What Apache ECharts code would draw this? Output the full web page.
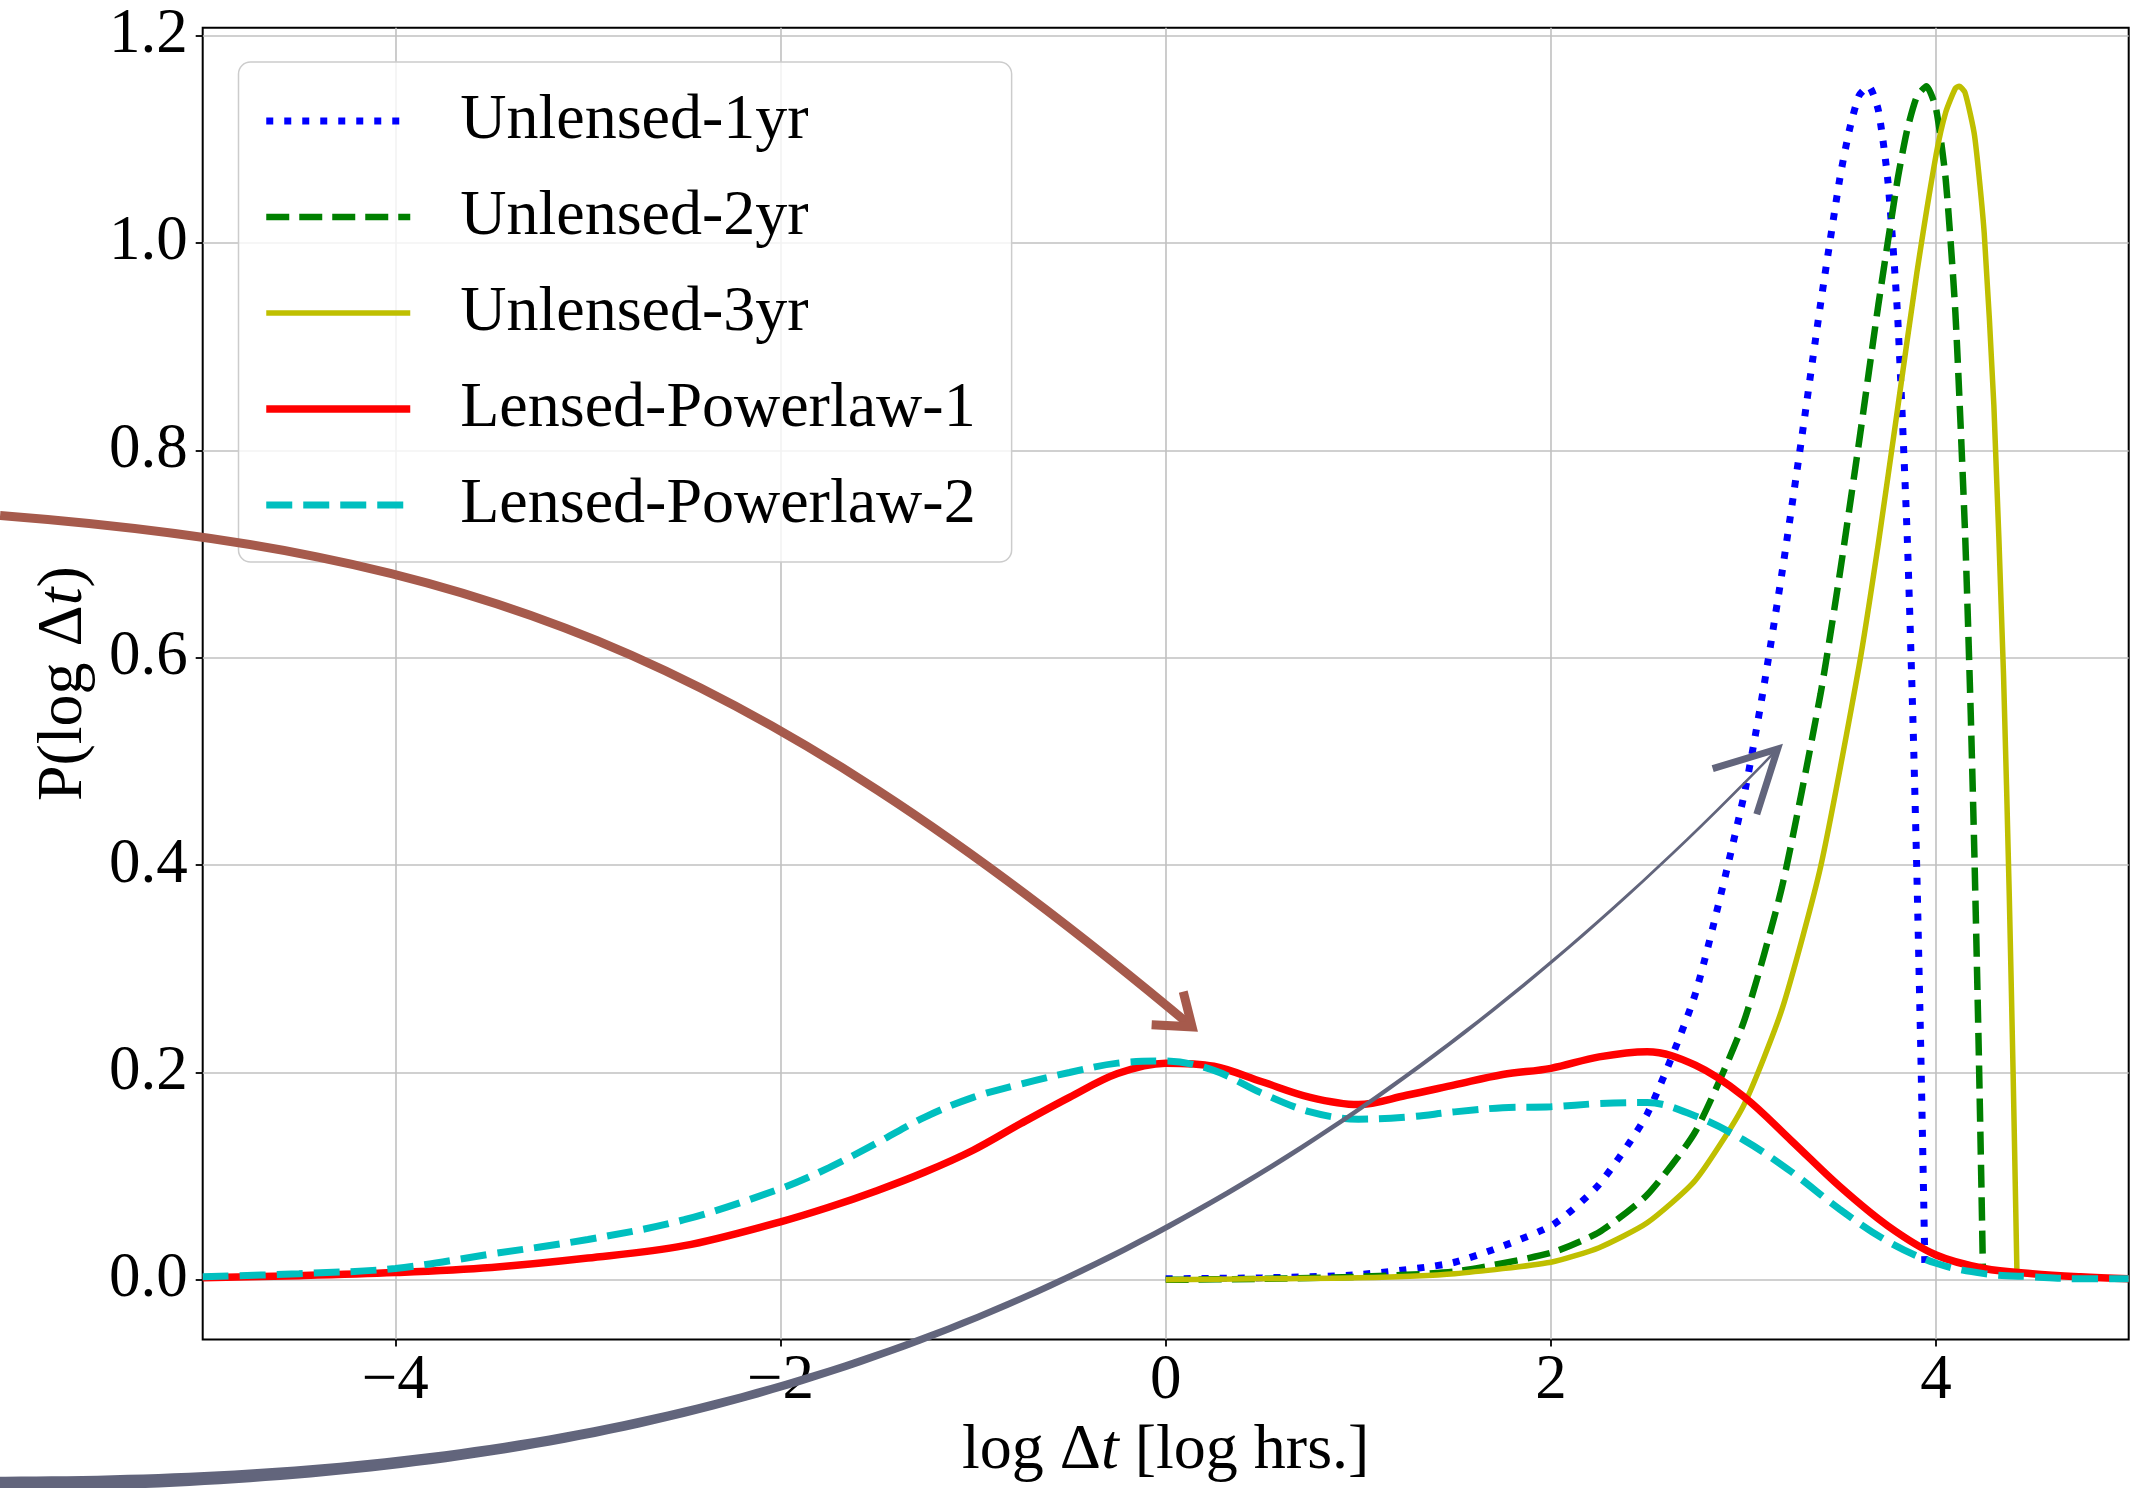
<!DOCTYPE html>
<html>
<head>
<meta charset="utf-8">
<script src="https://cdn.jsdelivr.net/npm/echarts@6/dist/echarts.min.js"></script>
<style>
html, body { margin: 0; padding: 0; background: #fff; }
#chart { width: 2150px; height: 1488px; }
</style>
</head>
<body>
<div id="chart"></div>
<script>
// names in draw order (last one on top)
const seriesNames = ['Unlensed-1yr', 'Unlensed-2yr', 'Unlensed-3yr', 'Lensed-Powerlaw-1', 'Lensed-Powerlaw-2'];

// unlensed curves (log hrs, P)
const unl1X = [0, 0.5, 1, 1.5, 2, 2.25, 2.5, 2.75, 3, 3.1, 3.2, 3.3, 3.4, 3.5, 3.55, 3.6, 3.65, 3.7, 3.75, 3.8, 3.85, 3.88, 3.9, 3.92, 3.935, 3.942];
const unl1Y = [0.001, 0.002, 0.005, 0.017, 0.052, 0.092, 0.160, 0.276, 0.465, 0.566, 0.682, 0.809, 0.941, 1.062, 1.109, 1.142, 1.151, 1.128, 1.059, 0.930, 0.717, 0.538, 0.393, 0.225, 0.083, 0.010];

const unl2X = [0, 0.5, 1, 1.5, 2, 2.25, 2.5, 2.75, 3, 3.2, 3.4, 3.5, 3.6, 3.7, 3.8, 3.85, 3.9, 3.95, 4.0, 4.05, 4.1, 4.15, 4.18, 4.2, 4.22, 4.235, 4.243];
const unl2Y = [0.000, 0.001, 0.003, 0.008, 0.026, 0.046, 0.082, 0.143, 0.248, 0.379, 0.565, 0.681, 0.808, 0.940, 1.061, 1.109, 1.141, 1.151, 1.129, 1.061, 0.933, 0.722, 0.545, 0.401, 0.234, 0.093, 0.010];

const unl3X = [0, 0.5, 1, 1.5, 2, 2.25, 2.5, 2.75, 3, 3.2, 3.4, 3.6, 3.7, 3.8, 3.9, 4.0, 4.05, 4.1, 4.12, 4.15, 4.2, 4.25, 4.3, 4.35, 4.38, 4.4, 4.413, 4.42];
const unl3Y = [0.000, 0.001, 0.002, 0.006, 0.017, 0.031, 0.055, 0.096, 0.168, 0.261, 0.398, 0.592, 0.710, 0.840, 0.971, 1.085, 1.126, 1.149, 1.151, 1.145, 1.103, 1.009, 0.843, 0.584, 0.370, 0.198, 0.073, 0.004];

// lensed curves share one x grid
const lensX = [-5, -4.5, -4, -3.5, -3, -2.5, -2, -1.75, -1.5, -1.25, -1, -0.75, -0.5, -0.25, 0, 0.25, 0.5, 0.75, 1, 1.25, 1.5, 1.75, 2, 2.25, 2.5, 2.75, 3, 3.25, 3.5, 3.75, 4, 4.25, 4.5, 4.75, 5];
const lens1Y = [0.002, 0.004, 0.007, 0.012, 0.021, 0.033, 0.056, 0.070, 0.086, 0.104, 0.125, 0.151, 0.176, 0.199, 0.209, 0.206, 0.191, 0.176, 0.169, 0.178, 0.188, 0.198, 0.204, 0.215, 0.220, 0.207, 0.177, 0.134, 0.090, 0.052, 0.024, 0.011, 0.006, 0.003, 0.001];
const lens2Y = [0.003, 0.006, 0.011, 0.025, 0.039, 0.058, 0.088, 0.108, 0.132, 0.157, 0.176, 0.189, 0.200, 0.209, 0.211, 0.202, 0.180, 0.162, 0.155, 0.157, 0.162, 0.166, 0.167, 0.170, 0.171, 0.158, 0.135, 0.104, 0.068, 0.037, 0.016, 0.006, 0.003, 0.001, 0.001];

const xTicks = [-4, -2, 0, 2, 4];
const yTicks = [0, 0.2, 0.4, 0.6, 0.8, 1.0, 1.2];

// the two annotation arrows, anchored in data units: bezier path + open head
const brownArrow = {
    path: [[-6.052, 0.737], [-3.653, 0.702], [-2.241, 0.614], [0.137, 0.244]],
    head: [[0.091, 0.278], [0.137, 0.244], [-0.073, 0.246]]
};
const greyArrow = {
    path: [[-6.104, -0.197], [-2.896, -0.195], [0.049, -0.093], [3.177, 0.512]],
    head: [[2.840, 0.493], [3.177, 0.512], [3.069, 0.449]]
};

const FONT = 'Liberation Serif';

// line looks per series: colour, width, dash
const looks = [
    { color: '#0000ff', width: 7, type: [7, 11] },
    { color: '#008000', width: 6.5, type: [23, 10] },
    { color: '#bfbf00', width: 5.5, type: 'solid' },
    { color: '#ff0000', width: 7.5, type: 'solid' },
    { color: '#00bfbf', width: 7, type: [26, 11] }
];

function pairs(xs, ys) {
    return xs.map((x, i) => [x, ys[i]]);
}

function lineSeries(i, data, smooth) {
    const lk = looks[i];
    return {
        name: seriesNames[i],
        type: 'line',
        data: data,
        symbol: 'none',
        smooth: smooth,
        clip: true,
        lineStyle: { color: lk.color, width: lk.width, type: lk.type, cap: 'butt' },
        itemStyle: { color: lk.color },
        emphasis: { disabled: true }
    };
}

const chart = echarts.init(document.getElementById('chart'), null, { renderer: 'canvas' });

const option = {
    backgroundColor: '#ffffff',
    animation: false,
    grid: {
        left: 202.7, right: 21.3, top: 27.7, bottom: 148.5,
        show: true, borderColor: '#000', borderWidth: 2,
        containLabel: false, outerBoundsMode: 'none'
    },
    legend: {
        orient: 'vertical',
        left: 238.5, top: 62,
        padding: [26, 36, 24, 24],
        itemWidth: 144, itemHeight: 20, itemGap: 30,
        backgroundColor: 'rgba(255,255,255,0.8)',
        borderColor: '#cccccc', borderWidth: 1.5, borderRadius: 12,
        selectedMode: false,
        itemStyle: { color: 'rgba(0,0,0,0)', opacity: 0, borderWidth: 0 },
        textStyle: { fontFamily: FONT, fontSize: 64, color: '#000', lineHeight: 66, padding: [0, 0, 0, 45] },
        data: seriesNames.map((n, i) => ({
            name: n,
            itemStyle: { opacity: 0 },
            lineStyle: { color: looks[i].color, width: looks[i].width, type: looks[i].type, cap: 'butt' }
        }))
    },
    xAxis: {
        type: 'value', min: -5, max: 5,
        axisLine: { show: false, onZero: false },
        axisTick: { show: true, customValues: xTicks, length: 7, lineStyle: { color: '#000', width: 1.8 } },
        axisLabel: {
            customValues: xTicks, margin: 10,
            fontFamily: FONT, fontSize: 63, color: '#000',
            formatter: v => String(v).replace('-', '\u2212')
        },
        splitLine: { show: true, lineStyle: { color: '#c0c0c0', width: 1.6 } },
        name: 'log \u0394{it|t} [log hrs.]',
        nameLocation: 'middle', nameGap: 80,
        nameTextStyle: {
            fontFamily: FONT, fontSize: 64, color: '#000',
            rich: { it: { fontFamily: FONT, fontSize: 64, fontStyle: 'italic', color: '#000' } }
        }
    },
    yAxis: {
        type: 'value', min: -0.0575, max: 1.2075,
        axisLine: { show: false, onZero: false },
        axisTick: { show: true, customValues: yTicks, length: 7, lineStyle: { color: '#000', width: 1.8 } },
        axisLabel: {
            customValues: yTicks, margin: 15,
            fontFamily: FONT, fontSize: 63, color: '#000',
            formatter: v => v.toFixed(1)
        },
        splitLine: { show: true, lineStyle: { color: '#c0c0c0', width: 1.6 } },
        name: 'P(log \u0394{it|t})',
        nameLocation: 'middle', nameGap: 107,
        nameTextStyle: {
            fontFamily: FONT, fontSize: 64, color: '#000',
            rich: { it: { fontFamily: FONT, fontSize: 64, fontStyle: 'italic', color: '#000' } }
        }
    },
    series: [
        lineSeries(0, pairs(unl1X, unl1Y), 0.2),
        lineSeries(1, pairs(unl2X, unl2Y), 0.2),
        lineSeries(2, pairs(unl3X, unl3Y), 0.2),
        lineSeries(3, pairs(lensX, lens1Y), 0.35),
        lineSeries(4, pairs(lensX, lens2Y), 0.35)
    ]
};

chart.setOption(option);

// arrows: convert data anchors to pixels through the axes
function px(p) {
    return chart.convertToPixel({ xAxisIndex: 0, yAxisIndex: 0 }, p);
}

function bezierPoint(P, t) {
    const u = 1 - t;
    const a = u * u * u, b = 3 * u * u * t, c = 3 * u * t * t, d = t * t * t;
    return [a * P[0][0] + b * P[1][0] + c * P[2][0] + d * P[3][0],
            a * P[0][1] + b * P[1][1] + c * P[2][1] + d * P[3][1]];
}

// filled band along a cubic, width going from w0 to w1
function taperedBand(P, w0, w1, steps) {
    const left = [], right = [];
    for (let i = 0; i <= steps; i++) {
        const t = i / steps;
        const p = bezierPoint(P, t);
        const q = bezierPoint(P, Math.min(1, t + 0.001));
        const r = bezierPoint(P, Math.max(0, t - 0.001));
        let dx = q[0] - r[0], dy = q[1] - r[1];
        const len = Math.sqrt(dx * dx + dy * dy) || 1;
        dx /= len; dy /= len;
        const w = (w1 + (w0 - w1) * Math.pow(1 - t, 1.3)) / 2;
        left.push([p[0] - dy * w, p[1] + dx * w]);
        right.push([p[0] + dy * w, p[1] - dx * w]);
    }
    return left.concat(right.reverse());
}

function drawArrows() {
    const bp = brownArrow.path.map(px);
    const gp = greyArrow.path.map(px);
    chart.setOption({
        graphic: [
            {
                type: 'bezierCurve', z: 50, silent: true,
                shape: { x1: bp[0][0], y1: bp[0][1], cpx1: bp[1][0], cpy1: bp[1][1],
                         cpx2: bp[2][0], cpy2: bp[2][1], x2: bp[3][0], y2: bp[3][1] },
                style: { stroke: '#a65a4c', lineWidth: 9, fill: null, lineCap: 'butt' }
            },
            {
                type: 'polyline', z: 50, silent: true,
                shape: { points: brownArrow.head.map(px) },
                style: { stroke: '#a65a4c', lineWidth: 9, fill: null, lineJoin: 'miter', lineCap: 'butt' }
            },
            {
                type: 'polygon', z: 50, silent: true,
                shape: { points: taperedBand(gp, 15, 2.5, 120) },
                style: { fill: '#62657c', stroke: null }
            },
            {
                type: 'polyline', z: 50, silent: true,
                shape: { points: greyArrow.head.map(px) },
                style: { stroke: '#62657c', lineWidth: 7, fill: null, lineJoin: 'miter', lineCap: 'butt' }
            }
        ]
    });
}

drawArrows();
</script>
</body>
</html>
